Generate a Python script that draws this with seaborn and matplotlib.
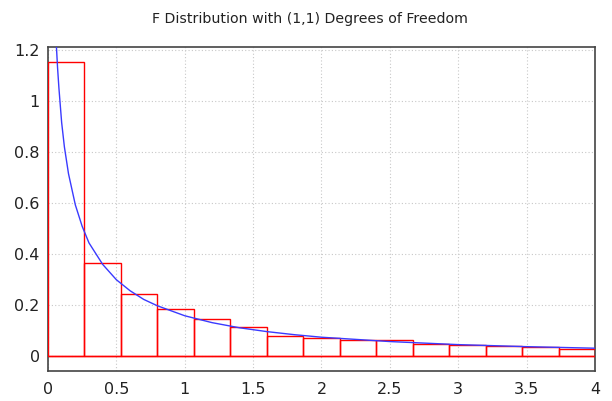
import matplotlib
matplotlib.use("Agg")
import matplotlib.pyplot as plt
import numpy as np
import pandas as pd
import seaborn as sns

# histogram: 15 bins of width 4/15 over [0, 4]
bin_edges = [0.0, 0.2667, 0.5333, 0.8, 1.0667, 1.3333, 1.6, 1.8667, 2.1333,
             2.4, 2.6667, 2.9333, 3.2, 3.4667, 3.7333, 4.0]
bin_heights = [1.153, 0.367, 0.246, 0.187, 0.145, 0.115, 0.078, 0.072,
               0.065, 0.063, 0.048, 0.044, 0.040, 0.036, 0.030]

# density curve
curve_x = [0.05, 0.06, 0.07, 0.08, 0.1, 0.12, 0.15, 0.2, 0.25, 0.3, 0.4, 0.5,
           0.6, 0.7, 0.8, 1.0, 1.2, 1.4, 1.6, 1.8, 2.0, 2.5, 3.0, 3.5, 4.0]
curve_y = [1.35, 1.23, 1.13, 1.05, 0.915, 0.82, 0.715, 0.593, 0.509, 0.444,
           0.360, 0.300, 0.257, 0.223, 0.198, 0.159, 0.132, 0.112, 0.097,
           0.085, 0.075, 0.058, 0.046, 0.038, 0.032]

x_ticks = [0, 0.5, 1, 1.5, 2, 2.5, 3, 3.5, 4]
x_labels = ["0", "0.5", "1", "1.5", "2", "2.5", "3", "3.5", "4"]
y_ticks = [0, 0.2, 0.4, 0.6, 0.8, 1.0, 1.2]
y_labels = ["0", "0.2", "0.4", "0.6", "0.8", "1", "1.2"]

sns.set_style("white")
plt.rcParams["font.family"] = ["DejaVu Sans"]

fig = plt.figure(figsize=(6.12, 4.01), dpi=100)
ax = fig.add_axes([0.0784, 0.0756, 0.8938, 0.8079])

centers = [(a + b) / 2 for a, b in zip(bin_edges[:-1], bin_edges[1:])]
hist_df = pd.DataFrame({"x": centers, "h": bin_heights})
sns.histplot(data=hist_df, x="x", weights="h", bins=bin_edges, fill=False,
             color="#ff0000", linewidth=1.0, ax=ax, zorder=3)
ax.axhline(0, color="#ff0000", lw=1.0, zorder=3)

curve_df = pd.DataFrame({"x": curve_x, "y": curve_y})
sns.lineplot(data=curve_df, x="x", y="y", color="#3a3aff", lw=1.0,
             sort=False, ax=ax, zorder=4)

ax.set_xlim(0, 4)
ax.set_ylim(-0.056, 1.212)
ax.set_xticks(x_ticks, x_labels)
ax.set_yticks(y_ticks, y_labels)
ax.grid(True, color="#c8c8c8", linestyle=(0, (1, 2)), lw=0.8)
ax.set_axisbelow(True)
ax.tick_params(direction="in", length=4, width=1, color="#444444",
               labelsize=11.5, labelcolor="#222222", pad=8)
ax.tick_params(axis="y", pad=6)
for s in ax.spines.values():
    s.set_color("#444444")
    s.set_linewidth(1.2)
ax.set_xlabel("")
ax.set_ylabel("")
fig.suptitle("F Distribution with (1,1) Degrees of Freedom", x=0.507, y=0.97,
             fontsize=10.2, color="#222222")

fig.savefig("out.png", dpi=100)
plt.close(fig)
